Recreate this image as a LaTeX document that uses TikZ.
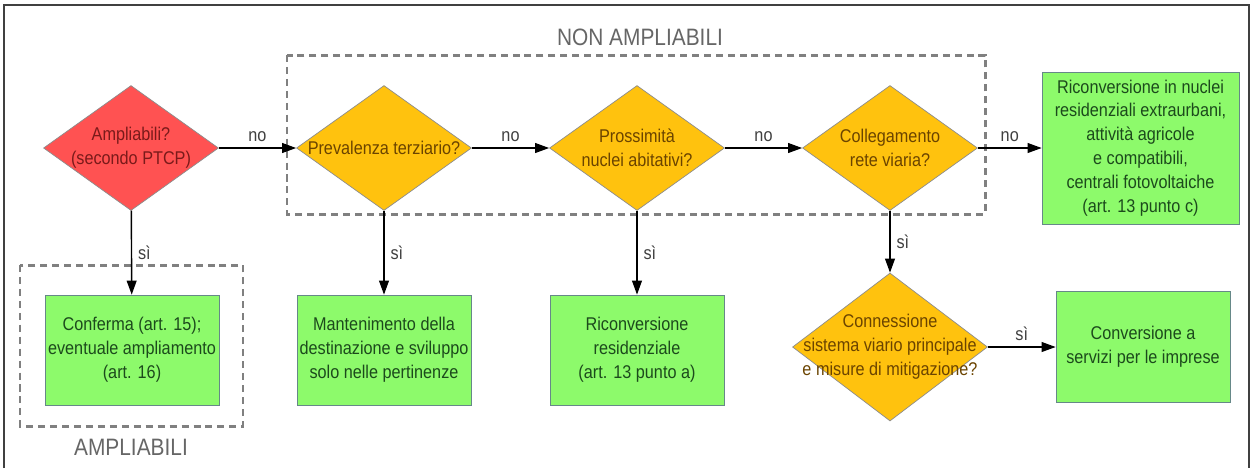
\documentclass[tikz,border=0pt]{standalone}
\usepackage{fontspec}
\setmainfont{Liberation Sans}[FakeStretch=0.88]
\usepackage{xcolor}
\usetikzlibrary{arrows.meta, positioning, shapes.geometric}
\definecolor{askred}{HTML}{FF5252}
\definecolor{askyellow}{HTML}{FFC20E}
\definecolor{boxgreen}{HTML}{8DFA6B}
\definecolor{redtext}{HTML}{7A1A1A}
\definecolor{yellowtext}{HTML}{6B4400}
\definecolor{greentext}{HTML}{1C4A1C}
\definecolor{groupgray}{HTML}{808080}
\tikzset{
  ask/.style={diamond, draw=black!45, fill=askyellow, text=yellowtext, align=center,
    inner sep=-6pt, aspect=1.4, minimum width=3.5cm, minimum height=2.5cm,
    font=\fontsize{10.5}{13.6}\selectfont},
  outcome/.style={draw=teal!45!black!60, fill=boxgreen, text=greentext, align=center,
    inner xsep=1.5pt, minimum width=3.48cm, minimum height=2.2cm,
    font=\fontsize{10.5}{13.6}\selectfont},
  group/.style={draw=groupgray, line width=1.7pt, dash pattern=on 4pt off 2.8pt},
  grouplabel/.style={text=black!60, font=\fontsize{13.5}{16}\selectfont},
  arrow/.style={-{Triangle[length=8pt, width=5.6pt]}, line width=0.8pt},
  choice/.style={font=\fontsize{10.5}{12}\selectfont, text=black!75}
}
\begin{document}
\begin{tikzpicture}[x=0.02cm, y=-0.02cm]
  \useasboundingbox[fill=white] (0,0) rectangle (1255,468);
  \draw[black!75, line width=0.8pt] (4,468) |- (1249,5) -- (1249,468);
  % dashed groups
  \draw[group] (287,55) rectangle (985,214);
  \draw[group] (20,265) rectangle (243,426);
  \node[grouplabel] (nonlab) at (640,37) {NON AMPLIABILI};
  \node[grouplabel] (amplab) at (131,447) {AMPLIABILI};
  % questions
  \node[ask, fill=askred, text=redtext] (amp) at (131,148) {Ampliabili?\\(secondo PTCP)};
  \node[ask] (terz) at (384,148) {Prevalenza terziario?};
  \node[ask] (nucl) at (637,148) {Prossimità\\nuclei abitativi?};
  \node[ask] (rete) at (890,148) {Collegamento\\rete viaria?};
  \node[ask, inner sep=-10pt, aspect=1.3, minimum width=3.9cm, minimum height=2.96cm] (conn) at (890,347)
    {Connessione\\sistema viario principale\\e misure di mitigazione?};
  % outcomes
  \node[outcome] (conf) at (132,350) {Conferma (art. 15);\\eventuale ampliamento\\(art. 16)};
  \node[outcome] (mant) at (384,350) {Mantenimento della\\destinazione e sviluppo\\solo nelle pertinenze};
  \node[outcome] (resi) at (637,350) {Riconversione\\residenziale\\(art. 13 punto a)};
  \node[outcome, minimum width=3.94cm, minimum height=3.04cm] (extra) at (1140.5,148)
    {Riconversione in nuclei\\residenziali extraurbani,\\attività agricole\\e compatibili,\\centrali fotovoltaiche\\(art. 13 punto c)};
  \node[outcome, minimum height=2.22cm] (serv) at (1143,347) {Conversione a\\servizi per le imprese};
  % connectors
  \draw[arrow] (amp) -- node[choice, midway, above] {no} (terz);
  \draw[arrow] (terz) -- node[choice, midway, above] {no} (nucl);
  \draw[arrow] (nucl) -- node[choice, midway, above] {no} (rete);
  \draw[arrow] (rete) -- node[choice, midway, above] {no} (extra);
  \draw[arrow] (amp) -- node[choice, midway, right] {sì} (conf);
  \draw[arrow] (terz) -- node[choice, midway, right] {sì} (mant);
  \draw[arrow] (nucl) -- node[choice, midway, right] {sì} (resi);
  \draw[arrow] (rete) -- node[choice, midway, right] {sì} (conn);
  \draw[arrow] (conn) -- node[choice, midway, above] {sì} (serv);
\end{tikzpicture}
\end{document}
